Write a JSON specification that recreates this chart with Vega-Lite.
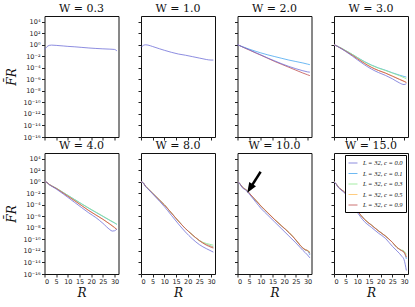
{
"$schema": "https://vega.github.io/schema/vega-lite/v6.json",
"padding": {"left": 4.5, "top": 2, "right": 0, "bottom": 0},
"background": "white",
"config": {
  "view": {"stroke": "#111", "strokeWidth": 1},
  "axis": {"domain": false, "grid": false, "tickSize": 3, "tickColor": "#222", "labelColor": "#222", "labelFont": "DejaVu Sans", "labelFontSize": 6.5, "labelPadding": 1.5, "titleFont": "DejaVu Serif", "titleFontStyle": "italic", "titleFontWeight": "normal", "titleFontSize": 12, "titleColor": "#111"},
  "axisY": {"titlePadding": 5},
  "axisX": {"titlePadding": 2},
  "title": {"font": "DejaVu Serif", "fontSize": 11, "fontWeight": "normal", "offset": 2, "color": "#111"},
  "line": {"strokeWidth": 1, "opacity": 0.8, "interpolate": "monotone", "clip": true}
},
"datasets": {
  "w03": [
    {"c":"0.0","R":0,"F":0.158},{"c":"0.0","R":1,"F":0.447},{"c":"0.0","R":2,"F":0.794},{"c":"0.0","R":3,"F":0.891},{"c":"0.0","R":5,"F":0.794},{"c":"0.0","R":8,"F":0.631},{"c":"0.0","R":10,"F":0.537},{"c":"0.0","R":13,"F":0.447},{"c":"0.0","R":16,"F":0.355},{"c":"0.0","R":19,"F":0.282},{"c":"0.0","R":22,"F":0.234},{"c":"0.0","R":25,"F":0.2},{"c":"0.0","R":28,"F":0.178},{"c":"0.0","R":30,"F":0.158},{"c":"0.0","R":31,"F":0.0891}
  ],
  "w1": [
    {"c":"0.0","R":0,"F":0.355},{"c":"0.0","R":1,"F":0.794},{"c":"0.0","R":2,"F":1},{"c":"0.0","R":3,"F":0.891},{"c":"0.0","R":5,"F":0.501},{"c":"0.0","R":8,"F":0.2},{"c":"0.0","R":10,"F":0.112},{"c":"0.0","R":13,"F":0.0501},{"c":"0.0","R":16,"F":0.0251},{"c":"0.0","R":19,"F":0.0158},{"c":"0.0","R":22,"F":8.91e-3},{"c":"0.0","R":25,"F":5.01e-3},{"c":"0.0","R":28,"F":2.82e-3},{"c":"0.0","R":30,"F":2.24e-3},{"c":"0.0","R":31,"F":2.24e-3}
  ],
  "w2": [
    {"c":"0.1","R":0,"F":1},{"c":"0.1","R":1,"F":0.708},{"c":"0.1","R":2,"F":0.501},{"c":"0.1","R":3,"F":0.355},{"c":"0.1","R":5,"F":0.178},{"c":"0.1","R":8,"F":0.0708},{"c":"0.1","R":10,"F":0.0398},{"c":"0.1","R":13,"F":0.0178},{"c":"0.1","R":16,"F":8.91e-3},{"c":"0.1","R":19,"F":4.47e-3},{"c":"0.1","R":22,"F":2.24e-3},{"c":"0.1","R":25,"F":1.26e-3},{"c":"0.1","R":28,"F":7.08e-4},{"c":"0.1","R":30,"F":4.47e-4},{"c":"0.1","R":31,"F":3.55e-4},
    {"c":"0.9","R":0,"F":1},{"c":"0.9","R":1,"F":0.708},{"c":"0.9","R":2,"F":0.447},{"c":"0.9","R":3,"F":0.282},{"c":"0.9","R":5,"F":0.126},{"c":"0.9","R":8,"F":0.0355},{"c":"0.9","R":10,"F":0.0158},{"c":"0.9","R":13,"F":4.47e-3},{"c":"0.9","R":16,"F":1.26e-3},{"c":"0.9","R":19,"F":3.98e-4},{"c":"0.9","R":22,"F":1.26e-4},{"c":"0.9","R":25,"F":3.98e-5},{"c":"0.9","R":28,"F":1.26e-5},{"c":"0.9","R":30,"F":6.31e-6},{"c":"0.9","R":31,"F":4.47e-6},
    {"c":"0.0","R":0,"F":1},{"c":"0.0","R":1,"F":0.708},{"c":"0.0","R":2,"F":0.447},{"c":"0.0","R":3,"F":0.316},{"c":"0.0","R":5,"F":0.141},{"c":"0.0","R":8,"F":0.0398},{"c":"0.0","R":10,"F":0.0178},{"c":"0.0","R":13,"F":5.01e-3},{"c":"0.0","R":16,"F":1.58e-3},{"c":"0.0","R":19,"F":5.01e-4},{"c":"0.0","R":22,"F":1.78e-4},{"c":"0.0","R":25,"F":7.08e-5},{"c":"0.0","R":28,"F":3.16e-5},{"c":"0.0","R":30,"F":2.0e-5},{"c":"0.0","R":31,"F":1.78e-5}
  ],
  "w3": [
    {"c":"0.1","R":0,"F":1},{"c":"0.1","R":1,"F":0.708},{"c":"0.1","R":2,"F":0.447},{"c":"0.1","R":3,"F":0.282},{"c":"0.1","R":5,"F":0.1},{"c":"0.1","R":8,"F":0.02},{"c":"0.1","R":10,"F":6.31e-3},{"c":"0.1","R":13,"F":1.26e-3},{"c":"0.1","R":16,"F":3.16e-4},{"c":"0.1","R":19,"F":1e-4},{"c":"0.1","R":22,"F":3.98e-5},{"c":"0.1","R":25,"F":1.41e-5},{"c":"0.1","R":28,"F":5.62e-6},{"c":"0.1","R":30,"F":3.16e-6},{"c":"0.1","R":31,"F":2.51e-6},
    {"c":"0.3","R":0,"F":1},{"c":"0.3","R":1,"F":0.708},{"c":"0.3","R":2,"F":0.447},{"c":"0.3","R":3,"F":0.282},{"c":"0.3","R":5,"F":0.1},{"c":"0.3","R":8,"F":0.02},{"c":"0.3","R":10,"F":6.31e-3},{"c":"0.3","R":13,"F":1.12e-3},{"c":"0.3","R":16,"F":2.82e-4},{"c":"0.3","R":19,"F":8.91e-5},{"c":"0.3","R":22,"F":3.55e-5},{"c":"0.3","R":25,"F":1.26e-5},{"c":"0.3","R":28,"F":4.47e-6},{"c":"0.3","R":30,"F":2.0e-6},{"c":"0.3","R":31,"F":1.26e-6},
    {"c":"0.5","R":0,"F":1},{"c":"0.5","R":1,"F":0.708},{"c":"0.5","R":2,"F":0.398},{"c":"0.5","R":3,"F":0.251},{"c":"0.5","R":5,"F":0.0794},{"c":"0.5","R":8,"F":0.0141},{"c":"0.5","R":10,"F":3.98e-3},{"c":"0.5","R":13,"F":6.31e-4},{"c":"0.5","R":16,"F":1.26e-4},{"c":"0.5","R":19,"F":3.55e-5},{"c":"0.5","R":22,"F":1.26e-5},{"c":"0.5","R":25,"F":3.98e-6},{"c":"0.5","R":28,"F":1.12e-6},{"c":"0.5","R":30,"F":5.01e-7},{"c":"0.5","R":31,"F":3.16e-7},
    {"c":"0.9","R":0,"F":1},{"c":"0.9","R":1,"F":0.708},{"c":"0.9","R":2,"F":0.398},{"c":"0.9","R":3,"F":0.251},{"c":"0.9","R":5,"F":0.0794},{"c":"0.9","R":8,"F":0.0141},{"c":"0.9","R":10,"F":3.98e-3},{"c":"0.9","R":13,"F":6.31e-4},{"c":"0.9","R":16,"F":1.26e-4},{"c":"0.9","R":19,"F":3.55e-5},{"c":"0.9","R":22,"F":1.26e-5},{"c":"0.9","R":25,"F":3.55e-6},{"c":"0.9","R":28,"F":1e-6},{"c":"0.9","R":30,"F":4.47e-7},{"c":"0.9","R":31,"F":2.82e-7},
    {"c":"0.0","R":0,"F":1},{"c":"0.0","R":1,"F":0.708},{"c":"0.0","R":2,"F":0.398},{"c":"0.0","R":3,"F":0.224},{"c":"0.0","R":5,"F":0.0708},{"c":"0.0","R":8,"F":0.01},{"c":"0.0","R":10,"F":2.51e-3},{"c":"0.0","R":13,"F":3.55e-4},{"c":"0.0","R":16,"F":6.31e-5},{"c":"0.0","R":19,"F":1.58e-5},{"c":"0.0","R":22,"F":5.01e-6},{"c":"0.0","R":25,"F":1.26e-6},{"c":"0.0","R":28,"F":2.51e-7},{"c":"0.0","R":30,"F":1.26e-7},{"c":"0.0","R":31,"F":1.78e-7}
  ],
  "w4": [
    {"c":"0.1","R":0,"F":1},{"c":"0.1","R":1,"F":0.794},{"c":"0.1","R":2,"F":0.355},{"c":"0.1","R":3,"F":0.2},{"c":"0.1","R":5,"F":0.0794},{"c":"0.1","R":8,"F":0.0141},{"c":"0.1","R":10,"F":4.47e-3},{"c":"0.1","R":13,"F":7.94e-4},{"c":"0.1","R":16,"F":1.41e-4},{"c":"0.1","R":19,"F":2.51e-5},{"c":"0.1","R":22,"F":5.01e-6},{"c":"0.1","R":25,"F":1e-6},{"c":"0.1","R":28,"F":2.0e-7},{"c":"0.1","R":30,"F":7.08e-8},{"c":"0.1","R":31,"F":3.98e-8},
    {"c":"0.3","R":0,"F":1},{"c":"0.3","R":1,"F":0.794},{"c":"0.3","R":2,"F":0.355},{"c":"0.3","R":3,"F":0.2},{"c":"0.3","R":5,"F":0.0794},{"c":"0.3","R":8,"F":0.0141},{"c":"0.3","R":10,"F":4.47e-3},{"c":"0.3","R":13,"F":7.94e-4},{"c":"0.3","R":16,"F":1.41e-4},{"c":"0.3","R":19,"F":2.82e-5},{"c":"0.3","R":22,"F":5.62e-6},{"c":"0.3","R":25,"F":1.12e-6},{"c":"0.3","R":28,"F":2.24e-7},{"c":"0.3","R":30,"F":7.94e-8},{"c":"0.3","R":31,"F":4.47e-8},
    {"c":"0.5","R":0,"F":1},{"c":"0.5","R":1,"F":0.794},{"c":"0.5","R":2,"F":0.355},{"c":"0.5","R":3,"F":0.2},{"c":"0.5","R":5,"F":0.0708},{"c":"0.5","R":8,"F":0.0112},{"c":"0.5","R":10,"F":3.16e-3},{"c":"0.5","R":13,"F":5.01e-4},{"c":"0.5","R":16,"F":7.08e-5},{"c":"0.5","R":19,"F":1e-5},{"c":"0.5","R":22,"F":1.78e-6},{"c":"0.5","R":25,"F":3.16e-7},{"c":"0.5","R":28,"F":5.01e-8},{"c":"0.5","R":30,"F":1.26e-8},{"c":"0.5","R":31,"F":5.62e-9},
    {"c":"0.9","R":0,"F":1},{"c":"0.9","R":1,"F":0.794},{"c":"0.9","R":2,"F":0.355},{"c":"0.9","R":3,"F":0.2},{"c":"0.9","R":5,"F":0.0708},{"c":"0.9","R":8,"F":0.0112},{"c":"0.9","R":10,"F":3.16e-3},{"c":"0.9","R":13,"F":5.01e-4},{"c":"0.9","R":16,"F":7.08e-5},{"c":"0.9","R":19,"F":1e-5},{"c":"0.9","R":22,"F":1.78e-6},{"c":"0.9","R":25,"F":3.16e-7},{"c":"0.9","R":28,"F":4.47e-8},{"c":"0.9","R":30,"F":1.12e-8},{"c":"0.9","R":31,"F":5.01e-9},
    {"c":"0.0","R":0,"F":1},{"c":"0.0","R":1,"F":0.794},{"c":"0.0","R":2,"F":0.316},{"c":"0.0","R":3,"F":0.178},{"c":"0.0","R":5,"F":0.0562},{"c":"0.0","R":8,"F":7.94e-3},{"c":"0.0","R":10,"F":2.0e-3},{"c":"0.0","R":13,"F":2.51e-4},{"c":"0.0","R":16,"F":3.16e-5},{"c":"0.0","R":19,"F":3.98e-6},{"c":"0.0","R":22,"F":6.31e-7},{"c":"0.0","R":25,"F":6.31e-8},{"c":"0.0","R":28,"F":5.01e-9},{"c":"0.0","R":29,"F":2.82e-9},{"c":"0.0","R":30,"F":3.16e-9},{"c":"0.0","R":31,"F":6.31e-9}
  ],
  "w8": [
    {"c":"0.1","R":0,"F":1},{"c":"0.1","R":1,"F":0.631},{"c":"0.1","R":2,"F":0.158},{"c":"0.1","R":3,"F":0.0631},{"c":"0.1","R":5,"F":0.01},{"c":"0.1","R":8,"F":6.31e-4},{"c":"0.1","R":10,"F":1e-4},{"c":"0.1","R":13,"F":3.98e-6},{"c":"0.1","R":16,"F":1.58e-7},{"c":"0.1","R":19,"F":7.94e-9},{"c":"0.1","R":22,"F":6.31e-10},{"c":"0.1","R":25,"F":6.31e-11},{"c":"0.1","R":28,"F":1.41e-11},{"c":"0.1","R":30,"F":7.08e-12},{"c":"0.1","R":31,"F":5.01e-12},
    {"c":"0.3","R":0,"F":1},{"c":"0.3","R":1,"F":0.631},{"c":"0.3","R":2,"F":0.158},{"c":"0.3","R":3,"F":0.0631},{"c":"0.3","R":5,"F":0.01},{"c":"0.3","R":8,"F":6.31e-4},{"c":"0.3","R":10,"F":1e-4},{"c":"0.3","R":13,"F":3.98e-6},{"c":"0.3","R":16,"F":1.58e-7},{"c":"0.3","R":19,"F":7.94e-9},{"c":"0.3","R":22,"F":6.31e-10},{"c":"0.3","R":25,"F":6.31e-11},{"c":"0.3","R":28,"F":2.0e-11},{"c":"0.3","R":30,"F":1.26e-11},{"c":"0.3","R":31,"F":1e-11},
    {"c":"0.5","R":0,"F":1},{"c":"0.5","R":1,"F":0.631},{"c":"0.5","R":2,"F":0.158},{"c":"0.5","R":3,"F":0.0631},{"c":"0.5","R":5,"F":0.01},{"c":"0.5","R":8,"F":6.31e-4},{"c":"0.5","R":10,"F":1e-4},{"c":"0.5","R":13,"F":3.98e-6},{"c":"0.5","R":16,"F":1.58e-7},{"c":"0.5","R":19,"F":7.94e-9},{"c":"0.5","R":22,"F":6.31e-10},{"c":"0.5","R":25,"F":6.31e-11},{"c":"0.5","R":28,"F":1.26e-11},{"c":"0.5","R":30,"F":6.31e-12},{"c":"0.5","R":31,"F":4.47e-12},
    {"c":"0.9","R":0,"F":1},{"c":"0.9","R":1,"F":0.631},{"c":"0.9","R":2,"F":0.158},{"c":"0.9","R":3,"F":0.0631},{"c":"0.9","R":5,"F":0.01},{"c":"0.9","R":8,"F":6.31e-4},{"c":"0.9","R":10,"F":1e-4},{"c":"0.9","R":13,"F":3.98e-6},{"c":"0.9","R":16,"F":1.58e-7},{"c":"0.9","R":19,"F":7.94e-9},{"c":"0.9","R":22,"F":6.31e-10},{"c":"0.9","R":25,"F":6.31e-11},{"c":"0.9","R":28,"F":1e-11},{"c":"0.9","R":30,"F":4.47e-12},{"c":"0.9","R":31,"F":3.16e-12},
    {"c":"0.0","R":0,"F":1},{"c":"0.0","R":1,"F":0.631},{"c":"0.0","R":2,"F":0.141},{"c":"0.0","R":3,"F":0.0562},{"c":"0.0","R":5,"F":7.94e-3},{"c":"0.0","R":8,"F":3.98e-4},{"c":"0.0","R":10,"F":5.01e-5},{"c":"0.0","R":13,"F":1.58e-6},{"c":"0.0","R":16,"F":5.01e-8},{"c":"0.0","R":19,"F":2.0e-9},{"c":"0.0","R":22,"F":1.26e-10},{"c":"0.0","R":25,"F":1.26e-11},{"c":"0.0","R":28,"F":2.51e-12},{"c":"0.0","R":30,"F":1e-12},{"c":"0.0","R":31,"F":6.31e-13}
  ],
  "w10": [
    {"c":"0.1","R":0,"F":1},{"c":"0.1","R":1,"F":0.501},{"c":"0.1","R":2,"F":0.126},{"c":"0.1","R":3,"F":0.0631},{"c":"0.1","R":4,"F":0.0316},{"c":"0.1","R":5,"F":0.0112},{"c":"0.1","R":8,"F":5.01e-4},{"c":"0.1","R":10,"F":6.31e-5},{"c":"0.1","R":13,"F":3.98e-6},{"c":"0.1","R":16,"F":2.51e-7},{"c":"0.1","R":19,"F":2.0e-8},{"c":"0.1","R":22,"F":1.58e-9},{"c":"0.1","R":25,"F":7.94e-11},{"c":"0.1","R":27,"F":7.94e-12},{"c":"0.1","R":28,"F":3.16e-12},{"c":"0.1","R":29,"F":1.58e-12},{"c":"0.1","R":30,"F":1.12e-12},{"c":"0.1","R":31,"F":2.0e-13},
    {"c":"0.3","R":0,"F":1},{"c":"0.3","R":1,"F":0.501},{"c":"0.3","R":2,"F":0.126},{"c":"0.3","R":3,"F":0.0631},{"c":"0.3","R":4,"F":0.0316},{"c":"0.3","R":5,"F":0.0112},{"c":"0.3","R":8,"F":5.01e-4},{"c":"0.3","R":10,"F":6.31e-5},{"c":"0.3","R":13,"F":3.98e-6},{"c":"0.3","R":16,"F":2.51e-7},{"c":"0.3","R":19,"F":2.0e-8},{"c":"0.3","R":22,"F":1.58e-9},{"c":"0.3","R":25,"F":7.94e-11},{"c":"0.3","R":27,"F":7.94e-12},{"c":"0.3","R":28,"F":3.16e-12},{"c":"0.3","R":29,"F":1.58e-12},{"c":"0.3","R":30,"F":1.12e-12},{"c":"0.3","R":31,"F":6.31e-13},
    {"c":"0.5","R":0,"F":1},{"c":"0.5","R":1,"F":0.501},{"c":"0.5","R":2,"F":0.126},{"c":"0.5","R":3,"F":0.0631},{"c":"0.5","R":4,"F":0.0316},{"c":"0.5","R":5,"F":0.0112},{"c":"0.5","R":8,"F":5.62e-4},{"c":"0.5","R":10,"F":7.08e-5},{"c":"0.5","R":13,"F":4.47e-6},{"c":"0.5","R":16,"F":2.82e-7},{"c":"0.5","R":19,"F":2.24e-8},{"c":"0.5","R":22,"F":1.78e-9},{"c":"0.5","R":25,"F":8.91e-11},{"c":"0.5","R":27,"F":8.91e-12},{"c":"0.5","R":28,"F":3.55e-12},{"c":"0.5","R":29,"F":1.78e-12},{"c":"0.5","R":30,"F":1.26e-12},{"c":"0.5","R":31,"F":6.31e-13},
    {"c":"0.9","R":0,"F":1},{"c":"0.9","R":1,"F":0.501},{"c":"0.9","R":2,"F":0.126},{"c":"0.9","R":3,"F":0.0631},{"c":"0.9","R":4,"F":0.0316},{"c":"0.9","R":5,"F":0.0112},{"c":"0.9","R":8,"F":5.01e-4},{"c":"0.9","R":10,"F":6.31e-5},{"c":"0.9","R":13,"F":3.98e-6},{"c":"0.9","R":16,"F":2.51e-7},{"c":"0.9","R":19,"F":2.0e-8},{"c":"0.9","R":22,"F":1.58e-9},{"c":"0.9","R":25,"F":7.94e-11},{"c":"0.9","R":27,"F":7.94e-12},{"c":"0.9","R":28,"F":3.16e-12},{"c":"0.9","R":29,"F":1.58e-12},{"c":"0.9","R":30,"F":1.12e-12},{"c":"0.9","R":31,"F":3.98e-13},
    {"c":"0.0","R":0,"F":1},{"c":"0.0","R":1,"F":0.447},{"c":"0.0","R":2,"F":0.1},{"c":"0.0","R":3,"F":0.0501},{"c":"0.0","R":4,"F":0.0251},{"c":"0.0","R":5,"F":7.94e-3},{"c":"0.0","R":8,"F":2.51e-4},{"c":"0.0","R":10,"F":2.51e-5},{"c":"0.0","R":13,"F":1.58e-6},{"c":"0.0","R":16,"F":1e-7},{"c":"0.0","R":19,"F":6.31e-9},{"c":"0.0","R":22,"F":3.98e-10},{"c":"0.0","R":25,"F":2.51e-11},{"c":"0.0","R":28,"F":1.26e-12},{"c":"0.0","R":30,"F":2.0e-13},{"c":"0.0","R":31,"F":6.31e-14}
  ],
  "w15": [
    {"c":"0.1","R":0,"F":1},{"c":"0.1","R":1,"F":0.398},{"c":"0.1","R":2,"F":0.1},{"c":"0.1","R":3,"F":0.0501},{"c":"0.1","R":5,"F":0.01},{"c":"0.1","R":8,"F":1.58e-4},{"c":"0.1","R":10,"F":1e-5},{"c":"0.1","R":13,"F":3.16e-7},{"c":"0.1","R":16,"F":3.16e-8},{"c":"0.1","R":19,"F":3.16e-9},{"c":"0.1","R":22,"F":3.98e-10},{"c":"0.1","R":25,"F":3.16e-11},{"c":"0.1","R":27,"F":3.98e-12},{"c":"0.1","R":29,"F":1.12e-12},{"c":"0.1","R":30,"F":6.31e-13},{"c":"0.1","R":31,"F":3.98e-14},
    {"c":"0.3","R":0,"F":1},{"c":"0.3","R":1,"F":0.398},{"c":"0.3","R":2,"F":0.1},{"c":"0.3","R":3,"F":0.0501},{"c":"0.3","R":5,"F":0.01},{"c":"0.3","R":8,"F":1.58e-4},{"c":"0.3","R":10,"F":1e-5},{"c":"0.3","R":13,"F":3.16e-7},{"c":"0.3","R":16,"F":3.16e-8},{"c":"0.3","R":19,"F":3.16e-9},{"c":"0.3","R":22,"F":3.98e-10},{"c":"0.3","R":25,"F":3.16e-11},{"c":"0.3","R":27,"F":3.98e-12},{"c":"0.3","R":29,"F":1.41e-12},{"c":"0.3","R":30,"F":1e-12},{"c":"0.3","R":31,"F":2.51e-13},
    {"c":"0.5","R":0,"F":1},{"c":"0.5","R":1,"F":0.398},{"c":"0.5","R":2,"F":0.1},{"c":"0.5","R":3,"F":0.0501},{"c":"0.5","R":5,"F":0.01},{"c":"0.5","R":8,"F":1.58e-4},{"c":"0.5","R":10,"F":1e-5},{"c":"0.5","R":13,"F":3.16e-7},{"c":"0.5","R":16,"F":3.16e-8},{"c":"0.5","R":19,"F":3.16e-9},{"c":"0.5","R":22,"F":3.98e-10},{"c":"0.5","R":25,"F":3.16e-11},{"c":"0.5","R":27,"F":3.98e-12},{"c":"0.5","R":29,"F":1.12e-12},{"c":"0.5","R":30,"F":6.31e-13},{"c":"0.5","R":31,"F":1e-13},
    {"c":"0.9","R":0,"F":1},{"c":"0.9","R":1,"F":0.398},{"c":"0.9","R":2,"F":0.1},{"c":"0.9","R":3,"F":0.0501},{"c":"0.9","R":5,"F":0.01},{"c":"0.9","R":8,"F":1.58e-4},{"c":"0.9","R":10,"F":1e-5},{"c":"0.9","R":13,"F":3.16e-7},{"c":"0.9","R":16,"F":3.16e-8},{"c":"0.9","R":19,"F":3.16e-9},{"c":"0.9","R":22,"F":3.98e-10},{"c":"0.9","R":25,"F":3.16e-11},{"c":"0.9","R":27,"F":3.98e-12},{"c":"0.9","R":29,"F":1.12e-12},{"c":"0.9","R":30,"F":6.31e-13},{"c":"0.9","R":31,"F":7.94e-14},
    {"c":"0.0","R":0,"F":1},{"c":"0.0","R":1,"F":0.355},{"c":"0.0","R":2,"F":0.0891},{"c":"0.0","R":3,"F":0.0398},{"c":"0.0","R":5,"F":7.08e-3},{"c":"0.0","R":8,"F":1e-4},{"c":"0.0","R":10,"F":5.01e-6},{"c":"0.0","R":13,"F":1.26e-7},{"c":"0.0","R":16,"F":1.26e-8},{"c":"0.0","R":19,"F":1.26e-9},{"c":"0.0","R":22,"F":1.58e-10},{"c":"0.0","R":25,"F":6.31e-12},{"c":"0.0","R":27,"F":1e-12},{"c":"0.0","R":29,"F":1.26e-13},{"c":"0.0","R":30,"F":3.16e-14},{"c":"0.0","R":31,"F":3.98e-16}
  ]
},
"columns": 4,
"spacing": {"row": 16, "column": 22.5},
"bounds": "flush",
"resolve": {"scale": {"color": "independent"}, "legend": {"color": "independent"}},
"concat": [
  {"title": "W = 0.3", "width": 74, "height": 121, "data": {"name": "w03"}, "mark": "line",
   "encoding": {
     "x": {"field": "R", "type": "quantitative", "scale": {"domain": [0, 31.7], "nice": false, "zero": false}, "axis": {"values": [0,5,10,15,20,25,30], "labels": false, "title": null}},
     "y": {"field": "F", "type": "quantitative", "scale": {"type": "log", "domain": [1e-16, 100000], "nice": false}, "axis": {"values": [1e-16,1e-14,1e-12,1e-10,1e-8,1e-6,0.0001,0.01,1,100,10000], "labelExpr": "'10' + replace(replace(replace(replace(replace(replace(replace(toString(round(log(datum.value)/LN10)),'-','⁻'),'0','⁰'),'1','¹'),'2','²'),'4','⁴'),'6','⁶'),'8','⁸')", "title": "F̄R"}},
     "color": {"field": "c", "type": "nominal", "scale": {"domain": ["0.0","0.1","0.3","0.5","0.9"], "range": ["#7070d8","#4aa8f0","#8ee88e","#ffc060","#c05050"]}, "legend": null}
   }},
  {"title": "W = 1.0", "width": 74, "height": 121, "data": {"name": "w1"}, "mark": "line",
   "encoding": {
     "x": {"field": "R", "type": "quantitative", "scale": {"domain": [0, 31.7], "nice": false, "zero": false}, "axis": {"values": [0,5,10,15,20,25,30], "labels": false, "title": null}},
     "y": {"field": "F", "type": "quantitative", "scale": {"type": "log", "domain": [1e-16, 100000], "nice": false}, "axis": {"values": [1e-16,1e-14,1e-12,1e-10,1e-8,1e-6,0.0001,0.01,1,100,10000], "labels": false, "title": null}},
     "color": {"field": "c", "type": "nominal", "scale": {"domain": ["0.0","0.1","0.3","0.5","0.9"], "range": ["#7070d8","#4aa8f0","#8ee88e","#ffc060","#c05050"]}, "legend": null}
   }},
  {"title": "W = 2.0", "width": 74, "height": 121, "data": {"name": "w2"}, "mark": "line",
   "encoding": {
     "x": {"field": "R", "type": "quantitative", "scale": {"domain": [0, 31.7], "nice": false, "zero": false}, "axis": {"values": [0,5,10,15,20,25,30], "labels": false, "title": null}},
     "y": {"field": "F", "type": "quantitative", "scale": {"type": "log", "domain": [1e-16, 100000], "nice": false}, "axis": {"values": [1e-16,1e-14,1e-12,1e-10,1e-8,1e-6,0.0001,0.01,1,100,10000], "labels": false, "title": null}},
     "color": {"field": "c", "type": "nominal", "scale": {"domain": ["0.0","0.1","0.3","0.5","0.9"], "range": ["#7070d8","#4aa8f0","#8ee88e","#ffc060","#c05050"]}, "legend": null}
   }},
  {"title": "W = 3.0", "width": 74, "height": 121, "data": {"name": "w3"}, "mark": "line",
   "encoding": {
     "x": {"field": "R", "type": "quantitative", "scale": {"domain": [0, 31.7], "nice": false, "zero": false}, "axis": {"values": [0,5,10,15,20,25,30], "labels": false, "title": null}},
     "y": {"field": "F", "type": "quantitative", "scale": {"type": "log", "domain": [1e-16, 100000], "nice": false}, "axis": {"values": [1e-16,1e-14,1e-12,1e-10,1e-8,1e-6,0.0001,0.01,1,100,10000], "labels": false, "title": null}},
     "color": {"field": "c", "type": "nominal", "scale": {"domain": ["0.0","0.1","0.3","0.5","0.9"], "range": ["#7070d8","#4aa8f0","#8ee88e","#ffc060","#c05050"]}, "legend": null}
   }},
  {"title": "W = 4.0", "width": 74, "height": 121, "data": {"name": "w4"}, "mark": "line",
   "encoding": {
     "x": {"field": "R", "type": "quantitative", "scale": {"domain": [0, 31.7], "nice": false, "zero": false}, "axis": {"values": [0,5,10,15,20,25,30], "title": "R"}},
     "y": {"field": "F", "type": "quantitative", "scale": {"type": "log", "domain": [1e-16, 100000], "nice": false}, "axis": {"values": [1e-16,1e-14,1e-12,1e-10,1e-8,1e-6,0.0001,0.01,1,100,10000], "labelExpr": "'10' + replace(replace(replace(replace(replace(replace(replace(toString(round(log(datum.value)/LN10)),'-','⁻'),'0','⁰'),'1','¹'),'2','²'),'4','⁴'),'6','⁶'),'8','⁸')", "title": "F̄R"}},
     "color": {"field": "c", "type": "nominal", "scale": {"domain": ["0.0","0.1","0.3","0.5","0.9"], "range": ["#7070d8","#4aa8f0","#8ee88e","#ffc060","#c05050"]}, "legend": null}
   }},
  {"title": "W = 8.0", "width": 74, "height": 121, "data": {"name": "w8"}, "mark": "line",
   "encoding": {
     "x": {"field": "R", "type": "quantitative", "scale": {"domain": [0, 31.7], "nice": false, "zero": false}, "axis": {"values": [0,5,10,15,20,25,30], "title": "R"}},
     "y": {"field": "F", "type": "quantitative", "scale": {"type": "log", "domain": [1e-16, 100000], "nice": false}, "axis": {"values": [1e-16,1e-14,1e-12,1e-10,1e-8,1e-6,0.0001,0.01,1,100,10000], "labels": false, "title": null}},
     "color": {"field": "c", "type": "nominal", "scale": {"domain": ["0.0","0.1","0.3","0.5","0.9"], "range": ["#7070d8","#4aa8f0","#8ee88e","#ffc060","#c05050"]}, "legend": null}
   }},
  {"title": "W = 10.0", "width": 74, "height": 121, "data": {"name": "w10"},
   "encoding": {
     "x": {"field": "R", "type": "quantitative", "scale": {"domain": [0, 31.7], "nice": false, "zero": false}, "axis": {"values": [0,5,10,15,20,25,30], "title": "R"}},
     "y": {"field": "F", "type": "quantitative", "scale": {"type": "log", "domain": [1e-16, 100000], "nice": false}, "axis": {"values": [1e-16,1e-14,1e-12,1e-10,1e-8,1e-6,0.0001,0.01,1,100,10000], "labels": false, "title": null}}
   },
   "layer": [
     {"mark": "line", "encoding": {"color": {"field": "c", "type": "nominal", "scale": {"domain": ["0.0","0.1","0.3","0.5","0.9"], "range": ["#7070d8","#4aa8f0","#8ee88e","#ffc060","#c05050"]}, "legend": null}}},
     {"data": {"values": [{"R": 9.9, "F": 56, "R2": 5.8, "F2": 0.135}]}, "mark": {"type": "rule", "color": "black", "strokeWidth": 2.5}, "encoding": {"x2": {"field": "R2"}, "y2": {"field": "F2"}}},
     {"data": {"values": [{"R": 4.2, "F": 0.0129}]}, "mark": {"type": "point", "shape": "M0,0L-0.8,2L0.8,2Z", "filled": true, "color": "black", "opacity": 1, "size": 100, "angle": 212}}
   ]},
  {"title": "W = 15.0", "width": 74, "height": 121, "data": {"name": "w15"}, "mark": "line",
   "encoding": {
     "x": {"field": "R", "type": "quantitative", "scale": {"domain": [0, 31.7], "nice": false, "zero": false}, "axis": {"values": [0,5,10,15,20,25,30], "title": "R"}},
     "y": {"field": "F", "type": "quantitative", "scale": {"type": "log", "domain": [1e-16, 100000], "nice": false}, "axis": {"values": [1e-16,1e-14,1e-12,1e-10,1e-8,1e-6,0.0001,0.01,1,100,10000], "labels": false, "title": null}},
     "color": {"field": "c", "type": "nominal", "scale": {"domain": ["0.0","0.1","0.3","0.5","0.9"], "range": ["#7070d8","#4aa8f0","#8ee88e","#ffc060","#c05050"]},
       "legend": {"orient": "top-right", "offset": 2, "title": null, "labelExpr": "'L = 32, c = ' + datum.label", "labelFont": "Liberation Serif", "labelFontStyle": "italic", "labelFontSize": 6.5, "labelColor": "#111", "labelOffset": 5, "symbolType": "stroke", "symbolSize": 80, "symbolStrokeWidth": 1.2, "symbolOpacity": 0.8, "strokeColor": "black", "fillColor": "white", "padding": 3, "rowPadding": 1.5, "cornerRadius": 0}}
   }}
]
}
